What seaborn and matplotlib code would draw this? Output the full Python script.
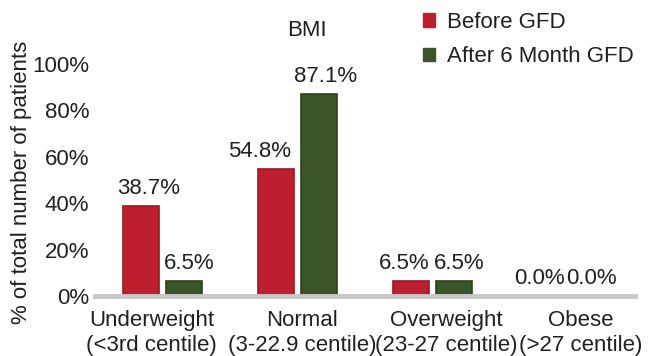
import matplotlib
matplotlib.use("Agg")
import matplotlib.pyplot as plt
import seaborn as sns
import pandas as pd
from matplotlib.patches import Patch

categories = ["Underweight\n(<3rd centile)", "Normal\n(3-22.9 centile)",
              "Overweight\n(23-27 centile)", "Obese\n(>27 centile)"]
series_names = ["Before GFD", "After 6 Month GFD"]
before_gfd = [38.7, 54.8, 6.5, 0.0]
after_gfd = [6.5, 87.1, 6.5, 0.0]
y_ticks = [0, 20, 40, 60, 80, 100]

sns.set_theme(style="white")
plt.rcParams["font.family"] = ["Liberation Sans", "DejaVu Sans"]
text_color = "#231F20"
fs = 16

df = pd.DataFrame({
    "category": categories * 2,
    "period": [series_names[0]] * 4 + [series_names[1]] * 4,
    "value": before_gfd + after_gfd,
})

colors = ["#BE1E2D", "#3A5527"]
edges = ["#9A1A22", "#2C421E"]
# horizontal nudges (points) so neighbouring labels stay readable
value_nudge = [[5, -12, -5, -5], [3.6, 5, 4.3, 1.8]]
category_nudge = [-8, 3.6, 10, 9.4]

fig = plt.figure(figsize=(6.48, 3.56), dpi=100)
ax = fig.add_axes([95 / 648, 1 - 296 / 356, 540 / 648, 232 / 356])

sns.barplot(data=df, x="category", y="value", hue="period", palette=colors,
            width=0.628, gap=0.15, ax=ax, legend=False, saturation=1)

for cont, ec, nudges in zip(ax.containers, edges, value_nudge):
    for bar in cont:
        bar.set_edgecolor(ec)
        bar.set_linewidth(1.2)
    anns = ax.bar_label(cont, labels=[f"{v:.1f}%" for v in cont.datavalues],
                        padding=5, fontsize=fs, color=text_color)
    for ann, dx in zip(anns, nudges):
        ann.xyann = (dx, 5)

ax.set_ylim(0, 100)
ax.set_xlim(-0.5, 3.5)
ax.set_yticks(y_ticks)
ax.set_yticklabels([f"{t}%" for t in y_ticks])
ax.tick_params(axis="y", length=0, pad=4, labelsize=fs, labelcolor=text_color)
ax.tick_params(axis="x", length=0, labelbottom=False)
ax.set_xlabel("")

# category names under each group
for i, (name, dx) in enumerate(zip(categories, category_nudge)):
    ax.annotate(name, xy=(i, 0), xycoords=("data", "axes fraction"),
                xytext=(dx, -10), textcoords="offset points",
                ha="center", va="top", multialignment="center",
                linespacing=1.28, fontsize=fs, color=text_color,
                annotation_clip=False)

ax.set_ylabel("% of total number of patients", fontsize=fs, color=text_color)
ax.yaxis.set_label_coords(-0.117, 0.49)

for side in ["top", "right", "left"]:
    ax.spines[side].set_visible(False)
ax.spines["bottom"].set_color("#C8C8C8")
ax.spines["bottom"].set_linewidth(3.5)

fig.text(307 / 648, 1 - 31 / 356, "BMI", ha="center", va="center",
         fontsize=fs, color=text_color)

handles = [Patch(facecolor=c, edgecolor=c) for c in colors]
fig.legend(handles, series_names, loc="upper left",
           bbox_to_anchor=(423 / 648, 1 - 12 / 356), frameon=False,
           fontsize=fs, handlelength=0.55, handleheight=0.55,
           handletextpad=0.55, labelspacing=0.6, borderpad=0,
           borderaxespad=0, labelcolor=text_color)

fig.savefig("out.png", dpi=100)
